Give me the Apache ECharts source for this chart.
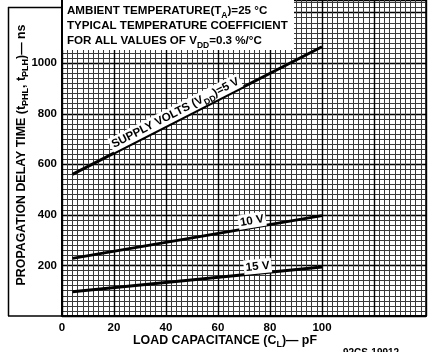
<!DOCTYPE html>
<html><head><meta charset="utf-8">
<script src="https://cdn.jsdelivr.net/npm/echarts@6/dist/echarts.min.js"></script>
<style>html,body{margin:0;padding:0;background:#fff}#c{width:432px;height:352px}</style>
</head><body><div id="c"></div>
<script>
// ---- data ----
const capacitance = [4, 100];          // pF
const delay5V  = [560, 1065];          // ns
const delay10V = [228, 397];
const delay15V = [96, 194];
const xTickLabels = [0, 20, 40, 60, 80, 100];
const yTickLabels = [200, 400, 600, 800, 1000];
const lineLabels = [
  {series: 0, x: 45, text: '{n|SUPPLY VOLTS (V}{s|DD}{n|)=5 V}', off: 8},
  {series: 1, x: 73.5, text: '{n|10 V}', off: 7},
  {series: 2, x: 75.5, text: '{n|15 V}', off: 7}
];

const FONT = '"Liberation Sans", Arial, sans-serif';
function mkRich(fs, sfs) {
  return {
    n: {fontFamily: FONT, fontWeight: 'bold', fontSize: fs, color: '#000', lineHeight: fs + 2, verticalAlign: 'bottom'},
    s: {fontFamily: FONT, fontWeight: 'bold', fontSize: sfs, color: '#000', lineHeight: sfs, verticalAlign: 'bottom', padding: [0, 0, -3, 0]}
  };
}
const richNote = mkRich(11.6, 8.5);
const richLbl = mkRich(11.6, 8.5);
const richAxis = mkRich(12.4, 9);

const chart = echarts.init(document.getElementById('c'), null, {renderer: 'canvas'});
const pts = ys => capacitance.map((x, i) => [x, ys[i]]);
const lineSeries = (name, ys) => ({
  type: 'line', name, data: pts(ys), symbol: 'none', silent: true, z: 5,
  lineStyle: {color: '#000', width: 3}
});

const option = {
  animation: false,
  grid: {left: 62, right: 6, top: 0, bottom: 36, show: true, borderColor: '#000', borderWidth: 1.5, backgroundColor: '#fff'},
  xAxis: [
    {type: 'value', min: 0, max: 140, interval: 2,
      axisLine: {show: true, lineStyle: {color: '#000', width: 2}}, axisTick: {show: false},
      axisLabel: {formatter: v => xTickLabels.includes(v) ? String(v) : '', color: '#000',
        fontFamily: FONT, fontWeight: 'bold', fontSize: 11.5, margin: 6, showMinLabel: true, showMaxLabel: false},
      splitLine: {show: true, lineStyle: {color: '#3a3a3a', width: 1}}},
    {type: 'value', min: 0, max: 140, interval: 20, position: 'bottom',
      axisLine: {show: false}, axisTick: {show: false}, axisLabel: {show: false},
      splitLine: {show: true, lineStyle: {color: '#000', width: 1.4}}}
  ],
  yAxis: [
    {type: 'value', min: 0, max: 1250, interval: 20,
      axisLine: {show: true, lineStyle: {color: '#000', width: 2}}, axisTick: {show: false},
      axisLabel: {formatter: v => yTickLabels.includes(v) ? String(v) : '', color: '#000',
        fontFamily: FONT, fontWeight: 'bold', fontSize: 11.5, margin: 5, showMaxLabel: false},
      splitLine: {show: true, lineStyle: {color: '#3a3a3a', width: 1}}},
    {type: 'value', min: 0, max: 1250, interval: 200, position: 'left',
      axisLine: {show: false}, axisTick: {show: false}, axisLabel: {show: false},
      splitLine: {show: true, lineStyle: {color: '#000', width: 1.4}}}
  ],
  series: [
    lineSeries('5 V', delay5V),
    lineSeries('10 V', delay10V),
    lineSeries('15 V', delay15V)
  ]
};
chart.setOption(option);

const seriesData = [delay5V, delay10V, delay15V];
const graphics = [];
// outer frame (left part)
graphics.push({type: 'line', shape: {x1: 8.5, y1: 7, x2: 8.5, y2: 316}, style: {stroke: '#000', lineWidth: 1.5}});
graphics.push({type: 'line', shape: {x1: 8, y1: 7.5, x2: 62, y2: 7.5}, style: {stroke: '#000', lineWidth: 1.5}});
graphics.push({type: 'line', shape: {x1: 8, y1: 316, x2: 62, y2: 316}, style: {stroke: '#000', lineWidth: 1.5}});
// annotation box
graphics.push({type: 'rect', shape: {x: 63, y: 0, width: 231, height: 50}, style: {fill: '#fff'}, z: 50});
const notes = [
  '{n|AMBIENT TEMPERATURE(T}{s|A}{n|)=25 °C}',
  '{n|TYPICAL TEMPERATURE COEFFICIENT}',
  '{n|FOR ALL VALUES OF V}{s|DD}{n|=0.3 %/°C}'
];
[10, 25, 40].forEach((y, i) => graphics.push({type: 'text', x: 67, y: y, z: 51,
  style: {text: notes[i], rich: richNote, textAlign: 'left', textVerticalAlign: 'middle'}}));

// line labels, placed through the axes' scales
lineLabels.forEach(l => {
  const ys = seriesData[l.series];
  const p1 = chart.convertToPixel({gridIndex: 0}, [capacitance[0], ys[0]]);
  const p2 = chart.convertToPixel({gridIndex: 0}, [capacitance[1], ys[1]]);
  const t = (l.x - capacitance[0]) / (capacitance[1] - capacitance[0]);
  const px = p1[0] + t * (p2[0] - p1[0]);
  const py = p1[1] + t * (p2[1] - p1[1]);
  const ang = Math.atan2(p1[1] - p2[1], p2[0] - p1[0]);
  const cx = px - Math.sin(ang) * l.off;
  const cy = py - Math.cos(ang) * l.off;
  graphics.push({type: 'text', x: cx, y: cy, rotation: ang, z: 40,
    style: {text: l.text, rich: richLbl, textAlign: 'center', textVerticalAlign: 'middle', backgroundColor: '#fff', padding: [0, 2, 1, 2]}});
});

// axis names
graphics.push({type: 'text', x: 20, y: 155, rotation: Math.PI / 2, z: 40,
  style: {text: '{n|PROPAGATION DELAY TIME (t}{s|PHL}{n|, t}{s|PLH}{n|)— ns}', rich: richAxis, textAlign: 'center', textVerticalAlign: 'middle'}});
graphics.push({type: 'text', x: 225, y: 339, z: 40,
  style: {text: '{n|LOAD CAPACITANCE (C}{s|L}{n|)— pF}', rich: richAxis, textAlign: 'center', textVerticalAlign: 'middle'}});
graphics.push({type: 'text', x: 343, y: 348, z: 40,
  style: {text: '92CS-19912', font: 'bold 10px ' + FONT, fill: '#000', textAlign: 'left', textVerticalAlign: 'top'}});

chart.setOption({graphic: graphics});
</script></body></html>
